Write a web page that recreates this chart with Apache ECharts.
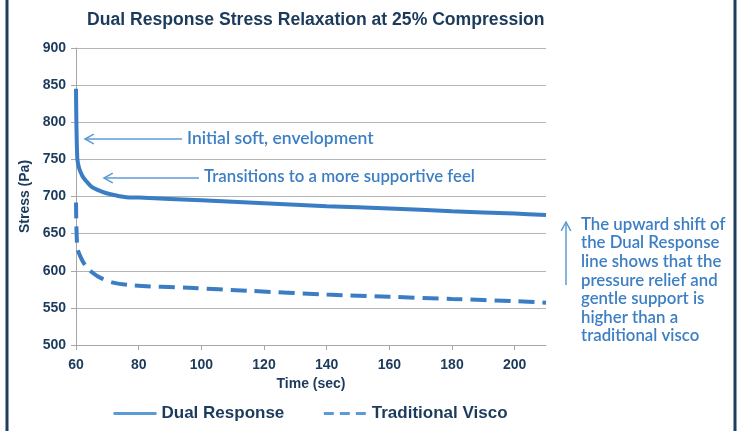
<!DOCTYPE html>
<html>
<head>
<meta charset="utf-8">
<script src="https://cdn.jsdelivr.net/npm/echarts@6/dist/echarts.min.js"></script>
<style>
  html, body { margin: 0; padding: 0; background: #fff; }
  #chart { width: 740px; height: 431px; }
</style>
</head>
<body>
<div id="chart"></div>
<script>
// time (sec) and stress (Pa)
const dualTime = [60, 60.4, 61, 62, 63, 65, 68, 71, 76, 80, 100, 120, 140, 160, 180, 200, 210]
const dualStress = [845, 752, 738, 728, 722, 713, 707, 703, 699, 698.5, 695, 691, 687, 684, 680, 677, 675]
const viscoTime = [60, 60.4, 61.3, 63, 65.4, 68, 71.8, 78.8, 96, 115, 140, 160, 180, 200, 210]
const viscoStress = [692, 632, 620, 607, 597, 590, 584, 580, 577, 573, 568, 565, 562, 559, 557]
const seriesNames = ['Dual Response', 'Traditional Visco']
const sideNote = ['The upward shift of', 'the Dual Response', 'line shows that the',
  'pressure relief and', 'gentle support is', 'higher than a', 'traditional visco']

const navy = '#1b3a5c'
const lineBlue = '#3a7dc4'
const noteBlue = '#3d7fc4'
const arrowBlue = '#5b9bd5'
const arial = '"Liberation Sans", Arial, sans-serif'

function zip(xs, ys) {
  return xs.map((x, i) => [x, ys[i]])
}

// simple arrow made from a line and a head
function arrow(x1, y1, x2, y2) {
  const ang = Math.atan2(y2 - y1, x2 - x1)
  const len = 10
  const spread = 0.5
  return [
    { type: 'line', shape: { x1: x1, y1: y1, x2: x2, y2: y2 },
      style: { stroke: arrowBlue, lineWidth: 1.5 } },
    { type: 'polyline',
      shape: { points: [
        [x2 - len * Math.cos(ang - spread), y2 - len * Math.sin(ang - spread)],
        [x2, y2],
        [x2 - len * Math.cos(ang + spread), y2 - len * Math.sin(ang + spread)]
      ] },
      style: { stroke: arrowBlue, lineWidth: 1.5, fill: 'none' } }
  ]
}

const chart = echarts.init(document.getElementById('chart'))

const noteFont = 'Lato, "Open Sans", sans-serif'
let graphics = []
// frame sides
graphics.push({ type: 'line', shape: { x1: 7, y1: 0, x2: 7, y2: 431 }, style: { stroke: '#1f3d5c', lineWidth: 3 } })
graphics.push({ type: 'line', shape: { x1: 735, y1: 0, x2: 735, y2: 431 }, style: { stroke: '#1f3d5c', lineWidth: 3 } })
graphics = graphics.concat(arrow(182, 139, 85, 139))
graphics = graphics.concat(arrow(199, 178, 104, 178))
graphics = graphics.concat(arrow(566, 285, 566, 222))
graphics.push({
  type: 'text', left: 187, top: 129,
  style: { text: 'Initial soft, envelopment', fill: noteBlue, font: '600 17.5px ' + noteFont }
})
graphics.push({
  type: 'text', left: 204, top: 168,
  style: { text: 'Transitions to a more supportive feel', fill: noteBlue, font: '600 16.8px ' + noteFont }
})
graphics.push({
  type: 'text', left: 581, top: 215,
  style: { text: sideNote.join('\n'), fill: noteBlue, font: '600 16.8px ' + noteFont, lineHeight: 18.6 }
})

const option = {
  animation: false,
  title: {
    text: 'Dual Response Stress Relaxation at 25% Compression',
    left: 82,
    top: 6,
    textStyle: { color: navy, fontFamily: arial, fontWeight: 'bold', fontSize: 17.6 }
  },
  grid: { left: 76, right: 194, top: 48, bottom: 86 },
  legend: {
    data: [
      { name: seriesNames[0] },
      { name: seriesNames[1], lineStyle: { type: [10, 6] } }
    ],
    left: 107,
    top: 400,
    itemWidth: 43,
    itemHeight: 12,
    itemGap: 38,
    itemStyle: { opacity: 0 },
    lineStyle: { color: arrowBlue, width: 3 },
    textStyle: { color: navy, fontFamily: arial, fontWeight: 'bold', fontSize: 17 }
  },
  xAxis: {
    type: 'value',
    min: 60,
    max: 210,
    interval: 20,
    name: 'Time (sec)',
    nameLocation: 'middle',
    nameGap: 32,
    nameTextStyle: { color: navy, fontWeight: 'bold', fontSize: 14, fontFamily: arial },
    axisLine: { lineStyle: { color: '#a6a6a6', width: 1 } },
    axisTick: { show: true, length: 5, lineStyle: { color: '#a6a6a6' } },
    axisLabel: {
      color: navy, fontWeight: 'bold', fontSize: 14, margin: 13,
      fontFamily: arial,
      showMaxLabel: false
    },
    splitLine: { show: false }
  },
  yAxis: {
    type: 'value',
    min: 500,
    max: 900,
    interval: 50,
    name: 'Stress (Pa)',
    nameLocation: 'middle',
    nameGap: 42,
    nameTextStyle: { color: navy, fontWeight: 'bold', fontSize: 14, fontFamily: arial },
    axisLine: { show: true, lineStyle: { color: '#a6a6a6', width: 1 } },
    axisTick: { show: true, length: 5, lineStyle: { color: '#a6a6a6' } },
    axisLabel: {
      color: navy, fontWeight: 'bold', fontSize: 14, margin: 10,
      fontFamily: arial
    },
    splitLine: { lineStyle: { color: '#b4b4b4', width: 1 } }
  },
  series: [
    {
      name: seriesNames[0],
      type: 'line',
      symbol: 'none',
      smooth: 0.3,
      color: lineBlue,
      lineStyle: { width: 4, color: lineBlue },
      data: zip(dualTime, dualStress)
    },
    {
      name: seriesNames[1],
      type: 'line',
      symbol: 'none',
      smooth: 0.3,
      color: lineBlue,
      lineStyle: { width: 4, color: lineBlue, type: [16, 8] },
      data: zip(viscoTime, viscoStress)
    }
  ],
  graphic: graphics
}

chart.setOption(option)
window.addEventListener('resize', () => { chart.resize() })
</script>
</body>
</html>
